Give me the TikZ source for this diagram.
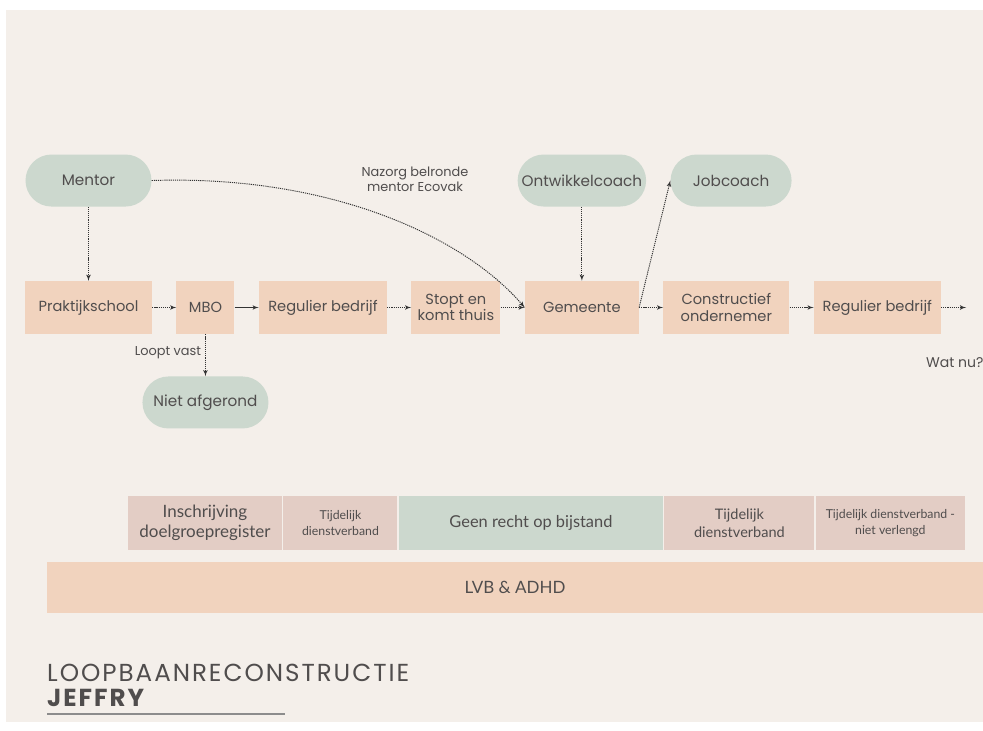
\documentclass[tikz,border=0pt]{standalone}
\usepackage{fontspec}
\setmainfont{Poppins}
\newfontfamily\cellfont{Lato}
\usepackage{tikz}
\usetikzlibrary{positioning}
\usetikzlibrary{shapes,arrows}
\definecolor{paper}{HTML}{F4EFEA}
\definecolor{peach}{HTML}{F1D3BE}
\definecolor{sage}{HTML}{CCD8CE}
\definecolor{rose}{HTML}{E3CDC5}
\definecolor{ink}{HTML}{504D4D}
\definecolor{wire}{HTML}{333333}
\tikzstyle{block} = [rectangle, fill=peach, text=ink, align=center,
    minimum height=15.9mm, inner sep=1pt, font=\fontsize{12.5}{14}\selectfont]
\tikzstyle{pill} = [rectangle, fill=sage, text=ink, rounded corners=7.8mm,
    minimum width=37.8mm, minimum height=15.6mm, font=\fontsize{13}{15}\selectfont]
\tikzstyle{cell} = [rectangle, fill=rose, text=ink, align=center,
    minimum height=16.2mm, inner sep=1pt, font=\cellfont\fontsize{14.5}{17}\selectfont]
\tikzstyle{note} = [text=ink, align=center, font=\fontsize{11}{13}\selectfont]
\tikzstyle{line} = [draw=wire, line width=0.8pt, -latex']
\tikzstyle{dline} = [line, dash pattern=on 1pt off 0.8pt]

\begin{document}
\begin{tikzpicture}[x=0.3mm, y=-0.3mm, node distance=7.2mm]
        \useasboundingbox (0,0) rectangle (983,731);
        \fill [white] (0,0) rectangle (983,731);
        \fill [paper] (6,10) rectangle (983,722);
            % Nodes
        \node [block, minimum width=38.1mm] (prakt) at (88.5,307.5) {Praktijkschool};
        \node [block, minimum width=17.4mm, right=of prakt] (mbo) {MBO};
        \node [block, minimum width=38.4mm, right=of mbo] (regulier) {Regulier bedrijf};
        \node [block, minimum width=26.7mm, right=of regulier] (stopt) {Stopt en\\komt thuis};
        \node [block, minimum width=34.2mm, right=of stopt] (gemeente) {Gemeente};
        \node [block, minimum width=37.8mm, right=of gemeente] (constr) {Constructief\\ondernemer};
        \node [block, minimum width=38.1mm, right=of constr] (regulier2) {Regulier bedrijf};
        \coordinate [right=7.5mm of regulier2] (verder);
        \node [pill, above=22.2mm of prakt] (mentor) {Mentor};
        \node [pill, below=12.6mm of mbo] (niet) {Niet afgerond};
        \node [pill, above=22.2mm of gemeente] (ontw) {Ontwikkelcoach};
        \node [pill, minimum width=36.3mm, right=of ontw] (jobcoach) {Jobcoach};
        \node [note] (nazorg) at (415,179) {Nazorg belronde\\mentor Ecovak};
        \node [note, font=\fontsize{12}{14}\selectfont, anchor=west] (watnu) at (922,363) {Wat nu?};
            % Edges
        \path [dline] (mentor) -- (prakt);
        \path [dline] (prakt) -- (mbo);
        \path [line] (mbo) -- (regulier);
        \path [dline] (regulier) -- (stopt);
        \path [dline] (stopt) -- (gemeente);
        \path [dline] (gemeente.east) -- (constr);
        \path [dline] (constr) -- (regulier2);
        \path [dline] (regulier2) -- (verder);
        \path [dline] (ontw) -- (gemeente);
        \path [dline] (gemeente.east) -- (jobcoach.west);
        \path [dline] (mbo) -- node [note, left, pos=0.45] {Loopt vast} (niet);
        \path [dline] (mentor.east) .. controls +(180,-6) and +(-60,-70) .. (gemeente.west);
            % Bands
        \node [cell, minimum width=46.2mm] (inschr) at (205,523) {Inschrijving\\doelgroepregister};
        \node [cell, minimum width=34.2mm, right=0.3mm of inschr, font=\cellfont\fontsize{10.5}{13}\selectfont] (tijd1) {Tijdelijk\\dienstverband};
        \node [cell, minimum width=79.2mm, right=0.3mm of tijd1, fill=sage, font=\cellfont\fontsize{14}{17}\selectfont] (geen) {Geen recht op bijstand};
        \node [cell, minimum width=45mm, right=0.3mm of geen, font=\cellfont\fontsize{12.4}{15}\selectfont] (tijd2) {Tijdelijk\\dienstverband};
        \node [cell, minimum width=44.7mm, right=0.3mm of tijd2, font=\cellfont\fontsize{10.5}{13}\selectfont] (tijd3) {Tijdelijk dienstverband -\\niet verlengd};
        \node [rectangle, fill=peach, text=ink, minimum width=280.8mm, minimum height=15.3mm,
            font=\cellfont\fontsize{14.5}{17}\selectfont] (lvb) at (515,587.5) {LVB \& ADHD};
            % Title
        \node [anchor=south west, inner sep=0pt, text=ink, font=\fontsize{21}{24}\selectfont\addfontfeatures{LetterSpace=8}] (title) at (47,682) {LOOPBAANRECONSTRUCTIE};
        \node [anchor=south west, inner sep=0pt, text=ink, font=\bfseries\fontsize{21}{24}\selectfont\addfontfeatures{LetterSpace=8}] (naam) at (47,707) {JEFFRY};
        \draw [line width=2.5pt, color=black!45] (47,714) -- (285,714);
    \end{tikzpicture}
\end{document}
